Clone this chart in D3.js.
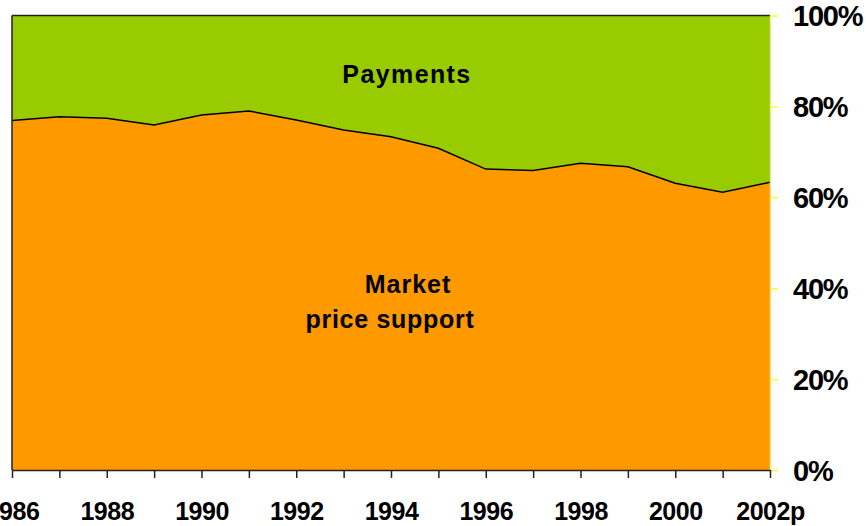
<!DOCTYPE html>
<html>
<head>
<meta charset="utf-8">
<script src="https://cdn.jsdelivr.net/npm/d3@7"></script>
<style>
  body { margin: 0; background: #fff; }
  svg { display: block; font-family: "Liberation Sans", Arial, sans-serif; font-weight: bold; }
</style>
</head>
<body>
<div id="chart"></div>
<script>
// years on the x axis
const years = [1986, 1987, 1988, 1989, 1990, 1991, 1992, 1993, 1994,
               1995, 1996, 1997, 1998, 1999, 2000, 2001, 2002];

// share of market price support in total support (%)
const marketPriceSupport = [76.9, 77.7, 77.4, 75.9, 78.1, 79.0, 77.0, 74.8, 73.3,
                            70.8, 66.2, 65.9, 67.5, 66.7, 63.1, 61.1, 63.3];

// share of payments (%)
const payments = marketPriceSupport.map(v => 100 - v);

const yTicks = [0, 20, 40, 60, 80, 100];
const xLabelYears = [1986, 1988, 1990, 1992, 1994, 1996, 1998, 2000, 2002];

const width = 866, height = 526;
const margin = { top: 15.5, right: 96, bottom: 56, left: 12 };

const svg = d3.select("#chart")
    .append("svg")
    .attr("width", width)
    .attr("height", height);

const x = d3.scaleLinear()
    .domain([1986, 2002])
    .range([margin.left, width - margin.right]);

const y = d3.scaleLinear()
    .domain([0, 100])
    .range([height - margin.bottom, margin.top]);

const rows = years.map((yr, i) => ({ year: yr, mps: marketPriceSupport[i], pay: payments[i] }));
const series = d3.stack().keys(["mps", "pay"])(rows);
const colors = { mps: "#ff9900", pay: "#99cc00" };

const area = d3.area()
    .x(d => x(d.data.year))
    .y0(d => y(d[0]))
    .y1(d => y(d[1]));

svg.selectAll(".layer")
    .data(series)
    .enter()
    .append("path")
    .attr("class", "layer")
    .attr("d", area)
    .attr("fill", d => colors[d.key]);

// boundary between the two layers
svg.append("path")
    .datum(rows)
    .attr("d", d3.line().x(d => x(d.year)).y(d => y(d.mps)))
    .attr("fill", "none")
    .attr("stroke", "#000")
    .attr("stroke-width", 1.5);

// frame: top and left
svg.append("line")
    .attr("x1", x(1986)).attr("x2", x(2002))
    .attr("y1", y(100)).attr("y2", y(100))
    .attr("stroke", "#222").attr("stroke-width", 1.5);
svg.append("line")
    .attr("x1", x(1986)).attr("x2", x(1986))
    .attr("y1", y(100)).attr("y2", y(0))
    .attr("stroke", "#222").attr("stroke-width", 1.5);

// right axis (percent)
const yAxis = svg.append("g")
    .attr("transform", `translate(${x(2002)},0)`)
    .call(d3.axisRight(y).tickValues(yTicks).tickSize(8).tickFormat(d => d + "%"));
yAxis.select(".domain").attr("stroke", "#e8e890").attr("stroke-width", 1.5);
yAxis.selectAll(".tick line").attr("stroke", "#ffff33").attr("stroke-width", 1.5);
yAxis.selectAll(".tick text")
    .attr("x", 23)
    .attr("dy", "0.36em")
    .attr("fill", "#000")
    .style("font-size", "29px")
    .style("font-weight", "bold")
    .style("letter-spacing", "-1.2px");

// bottom axis (years)
const xAxis = svg.append("g")
    .attr("transform", `translate(0,${y(0)})`)
    .call(d3.axisBottom(x).tickValues(years).tickSize(8).tickSizeOuter(0)
        .tickFormat(d => xLabelYears.includes(d) ? (d === 2002 ? "2002p" : String(d)) : ""));
xAxis.select(".domain").attr("stroke", "#222").attr("stroke-width", 1.5);
xAxis.selectAll(".tick line").attr("stroke", "#222").attr("stroke-width", 1.5);
xAxis.selectAll(".tick text")
    .attr("y", 50)
    .attr("dy", 0)
    .attr("fill", "#000")
    .style("font-size", "25px")
    .style("font-weight", "bold")
    .style("letter-spacing", "-0.5px");

// series labels
svg.append("text")
    .attr("x", 407).attr("y", 83)
    .attr("text-anchor", "middle")
    .style("font-size", "25px")
    .style("letter-spacing", "1.4px")
    .text("Payments");

svg.append("text")
    .attr("x", 408).attr("y", 293)
    .attr("text-anchor", "middle")
    .style("font-size", "25px")
    .style("letter-spacing", "1px")
    .text("Market");

svg.append("text")
    .attr("x", 390).attr("y", 328)
    .attr("text-anchor", "middle")
    .style("font-size", "25px")
    .style("letter-spacing", "0.7px")
    .text("price support");
</script>
</body>
</html>
